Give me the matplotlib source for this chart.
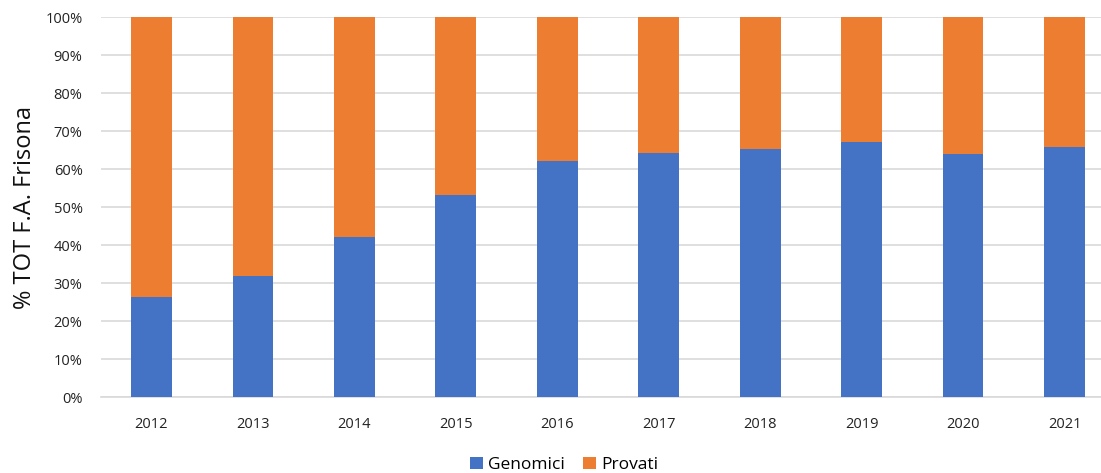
import numpy as np
import matplotlib
matplotlib.use("Agg")
import matplotlib.pyplot as plt
from matplotlib.ticker import PercentFormatter

# -----------------------------------
# DATI
# -----------------------------------

anni = ["2012", "2013", "2014", "2015", "2016", "2017", "2018", "2019", "2020", "2021"]
genomici = [26.5, 31.8, 42.3, 53.2, 62.1, 64.2, 65.3, 67.3, 64.1, 65.8]
provati = [100 - g for g in genomici]

BLU = "#4472C4"
ARANCIO = "#ED7D31"
GRIGIO = "#D9D9D9"

plt.rcParams["font.family"] = ["Open Sans", "DejaVu Sans"]

# -----------------------------------
# FIGURA
# -----------------------------------

fig = plt.figure(figsize=(11.01, 4.73), dpi=100)
ax = fig.add_axes([100.6 / 1101, 75.7 / 473, (1115.4 - 100.6) / 1101, 380 / 473])

x = np.arange(len(anni))
ax.bar(x, genomici, width=0.4, color=BLU, label="Genomici", zorder=3)
ax.bar(x, provati, width=0.4, bottom=genomici, color=ARANCIO, label="Provati", zorder=3)

ax.set_xlim(-0.5, len(anni) - 0.5)
ax.set_ylim(0, 100)
ax.set_yticks(np.arange(0, 101, 10))
ax.yaxis.set_major_formatter(PercentFormatter(decimals=0))
ax.set_xticks(x)
ax.set_xticklabels(anni)

ax.grid(axis="y", color=GRIGIO, linewidth=1.2, zorder=0)
for lato in ["top", "right", "left"]:
    ax.spines[lato].set_visible(False)
ax.spines["bottom"].set_color(GRIGIO)
ax.spines["bottom"].set_linewidth(1.2)
ax.tick_params(axis="both", length=0, labelsize=10.5, colors="#222222")
ax.tick_params(axis="y", pad=13)
ax.tick_params(axis="x", pad=14)

ax.set_ylabel("% TOT F.A. Frisona", fontsize=17, color="#111111", labelpad=6)

ax.legend(loc="upper center", bbox_to_anchor=((564 - 100.6) / (1115.4 - 100.6), -0.115),
          ncol=2, frameon=False, fontsize=12.5, handlelength=0.75, handleheight=0.75,
          handletextpad=0.3, columnspacing=1.0)

fig.savefig("out.png", dpi=100)
